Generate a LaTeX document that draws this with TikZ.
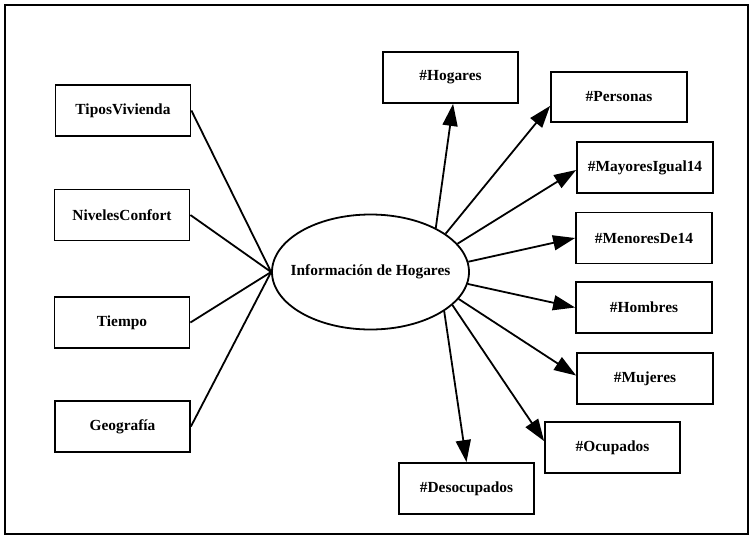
\documentclass[tikz,border=0pt]{standalone}
\usepackage{fontspec}
\setmainfont{Liberation Serif}
\usetikzlibrary{arrows.meta,shapes.geometric,calc}
\begin{document}
\begin{tikzpicture}[x=1pt,y=-1pt,
  txt/.style={font=\fontsize{15.4}{18}\selectfont\bfseries},
  box/.style={draw,line width=1.8pt,rectangle,inner sep=0pt,minimum width=135pt,minimum height=51pt,txt},
  ell/.style={draw,line width=1.8pt,ellipse,inner sep=0pt,minimum width=197pt,minimum height=115pt},
  link/.style={line width=1.8pt},
  arr/.style={line width=1.8pt,-{Triangle[length=22pt,width=15pt]}}]
\useasboundingbox (0,0) rectangle (755,539);
\draw[line width=2pt] (5,5) rectangle (748,534);

\node[ell] (e) at (370.5,272) {};
\node[txt] (etxt) at (e.center) {Información de Hogares};

\node[box] (tipos) at (123,110.5) {TiposVivienda};
\node[box] (niv) at (122,215) {NivelesConfort};
\node[box] (tiem) at (122,322.5) {Tiempo};
\node[box] (geo) at (122.5,426.5) {Geografía};

\node[box] (hog) at (450.5,77.5) {\#Hogares};
\node[box,minimum width=136pt,minimum height=50pt] (pers) at (619,97) {\#Personas};
\node[box,minimum width=136pt] (may) at (645,167.5) {\#MayoresIgual14};
\node[box,minimum width=136pt] (men) at (644,238) {\#MenoresDe14};
\node[box,minimum width=136pt] (hom) at (644,307.5) {\#Hombres};
\node[box,minimum width=136pt] (muj) at (645,378.5) {\#Mujeres};
\node[box] (ocu) at (612.5,447.5) {\#Ocupados};
\node[box] (des) at (466.5,488.5) {\#Desocupados};

\draw[link] (tipos.east) -- (e.west);
\draw[link] (niv.east) -- (e.west);
\draw[link] (tiem.east) -- (e.west);
\draw[link] (geo.east) -- (e.west);

\draw[arr] (e.34) -- ($(hog.south west)+(71,0)$);
\draw[arr] (e.27) -- ($(pers.south west)+(0,-17)$);
\draw[arr] (e.18) -- ($(may.west)+(0,2.5)$);
\draw[arr] (e.6) -- (men.west);
\draw[arr] (e.-7) -- (hom.west);
\draw[arr] (e.-17) -- ($(muj.west)+(0,-3)$);
\draw[arr] (e.-22) -- ($(ocu.north west)+(0,20)$);
\draw[arr] (e.-28) -- (des.north);
\end{tikzpicture}
\end{document}
